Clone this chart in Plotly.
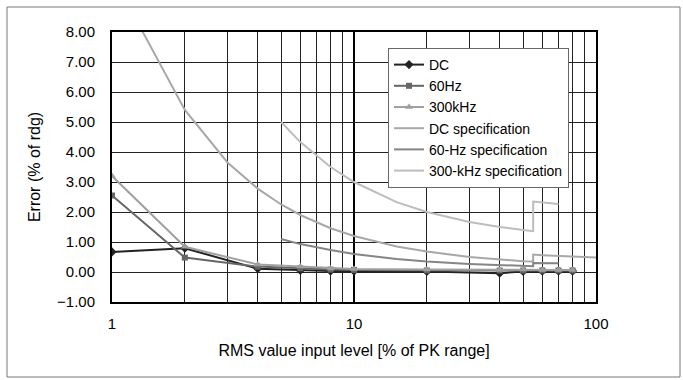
import plotly.graph_objects as go

# Measured data
x_pts = [1, 2, 4, 6, 8, 10, 20, 40, 50, 60, 70, 80]
dc_err = [0.67, 0.79, 0.11, 0.05, 0.03, 0.03, 0.02, -0.04, 0.02, 0.03, 0.03, 0.03]
hz60_err = [2.55, 0.48, 0.18, 0.12, 0.08, 0.07, 0.05, 0.05, 0.05, 0.05, 0.05, 0.05]
khz300_err = [3.2, 0.84, 0.25, 0.18, 0.12, 0.10, 0.08, 0.07, 0.08, 0.07, 0.07, 0.07]

# Specification curves
dc_spec_x = [1.3, 2, 3, 4, 5, 6, 8, 10, 15, 20, 30, 40, 50, 55, 55, 60, 70, 80, 100]
dc_spec_y = [8.2, 5.4, 3.65, 2.78, 2.25, 1.9, 1.46, 1.2, 0.85, 0.68, 0.5, 0.41, 0.36, 0.35,
             0.58, 0.56, 0.53, 0.51, 0.48]
hz60_spec_x = [5, 6, 8, 10, 15, 20, 30, 40, 50, 55, 55, 60, 70]
hz60_spec_y = [1.1, 0.93, 0.73, 0.6, 0.43, 0.35, 0.27, 0.23, 0.2, 0.19, 0.3, 0.3, 0.29]
khz300_spec_x = [5, 6, 8, 10, 15, 20, 30, 40, 50, 55, 55, 60, 70]
khz300_spec_y = [5.0, 4.33, 3.5, 3.0, 2.33, 2.0, 1.67, 1.5, 1.4, 1.36, 2.35, 2.33, 2.27]

x_major = [1, 10, 100]
x_minor = [2, 3, 4, 5, 6, 7, 8, 9, 20, 30, 40, 50, 60, 70, 80, 90]

FONT = "Liberation Sans, Arial, sans-serif"

fig = go.Figure()
fig.add_trace(go.Scatter(x=x_pts, y=dc_err, name="DC", mode="lines+markers",
                         line=dict(color="#222222", width=2),
                         marker=dict(symbol="diamond", size=7, color="#222222")))
fig.add_trace(go.Scatter(x=x_pts, y=hz60_err, name="60Hz", mode="lines+markers",
                         line=dict(color="#666666", width=2),
                         marker=dict(symbol="square", size=6, color="#666666")))
fig.add_trace(go.Scatter(x=x_pts, y=khz300_err, name="300kHz", mode="lines+markers",
                         line=dict(color="#a0a0a0", width=2),
                         marker=dict(symbol="triangle-up", size=7, color="#a0a0a0")))
fig.add_trace(go.Scatter(x=dc_spec_x, y=dc_spec_y, name="DC specification", mode="lines",
                         line=dict(color="#a8a8a8", width=2)))
fig.add_trace(go.Scatter(x=hz60_spec_x, y=hz60_spec_y, name="60-Hz specification", mode="lines",
                         line=dict(color="#858585", width=2)))
fig.add_trace(go.Scatter(x=khz300_spec_x, y=khz300_spec_y, name="300-kHz specification", mode="lines",
                         line=dict(color="#bdbdbd", width=2)))

fig.update_xaxes(type="log", range=[0, 2], tickvals=x_major, ticktext=[str(v) for v in x_major],
                 showgrid=True, gridcolor="black", gridwidth=2,
                 minor=dict(tickvals=x_minor, showgrid=True, gridcolor="#222222", gridwidth=1, ticks=""),
                 showline=True, linecolor="black", linewidth=2, mirror=True,
                 ticks="", ticklabelstandoff=7, zeroline=False,
                 title=dict(text="RMS value input level [% of PK range]", standoff=14,
                            font=dict(size=16, color="black")),
                 tickfont=dict(size=15, color="black"))
fig.update_yaxes(range=[-1, 8], dtick=1, tick0=0, tickformat=".2f",
                 showgrid=True, gridcolor="#222222", gridwidth=1,
                 showline=True, linecolor="black", linewidth=2, mirror=True,
                 ticks="", ticklabelstandoff=12, zeroline=False,
                 title=dict(text="Error (% of rdg)", standoff=12,
                            font=dict(size=16, color="black")),
                 tickfont=dict(size=15, color="black"))

# outer frame
fig.add_shape(type="rect", xref="paper", yref="paper",
              x0=(7 - 112) / 484, x1=(680 - 112) / 484,
              y0=(302 - 377) / 270, y1=(302 - 7) / 270,
              line=dict(color="#777777", width=1), layer="below")

fig.update_layout(
    width=683, height=380,
    margin=dict(l=112, r=87, t=32, b=78),
    paper_bgcolor="white", plot_bgcolor="white",
    font=dict(family=FONT, size=15, color="black"),
    showlegend=True,
    legend=dict(x=(388 - 112) / 484, y=(302 - 48) / 270, xanchor="left", yanchor="top",
                bgcolor="white", bordercolor="#666666", borderwidth=1,
                font=dict(size=14, color="black"), tracegroupgap=0,
                itemwidth=30),
)

fig.write_html("out.html")
